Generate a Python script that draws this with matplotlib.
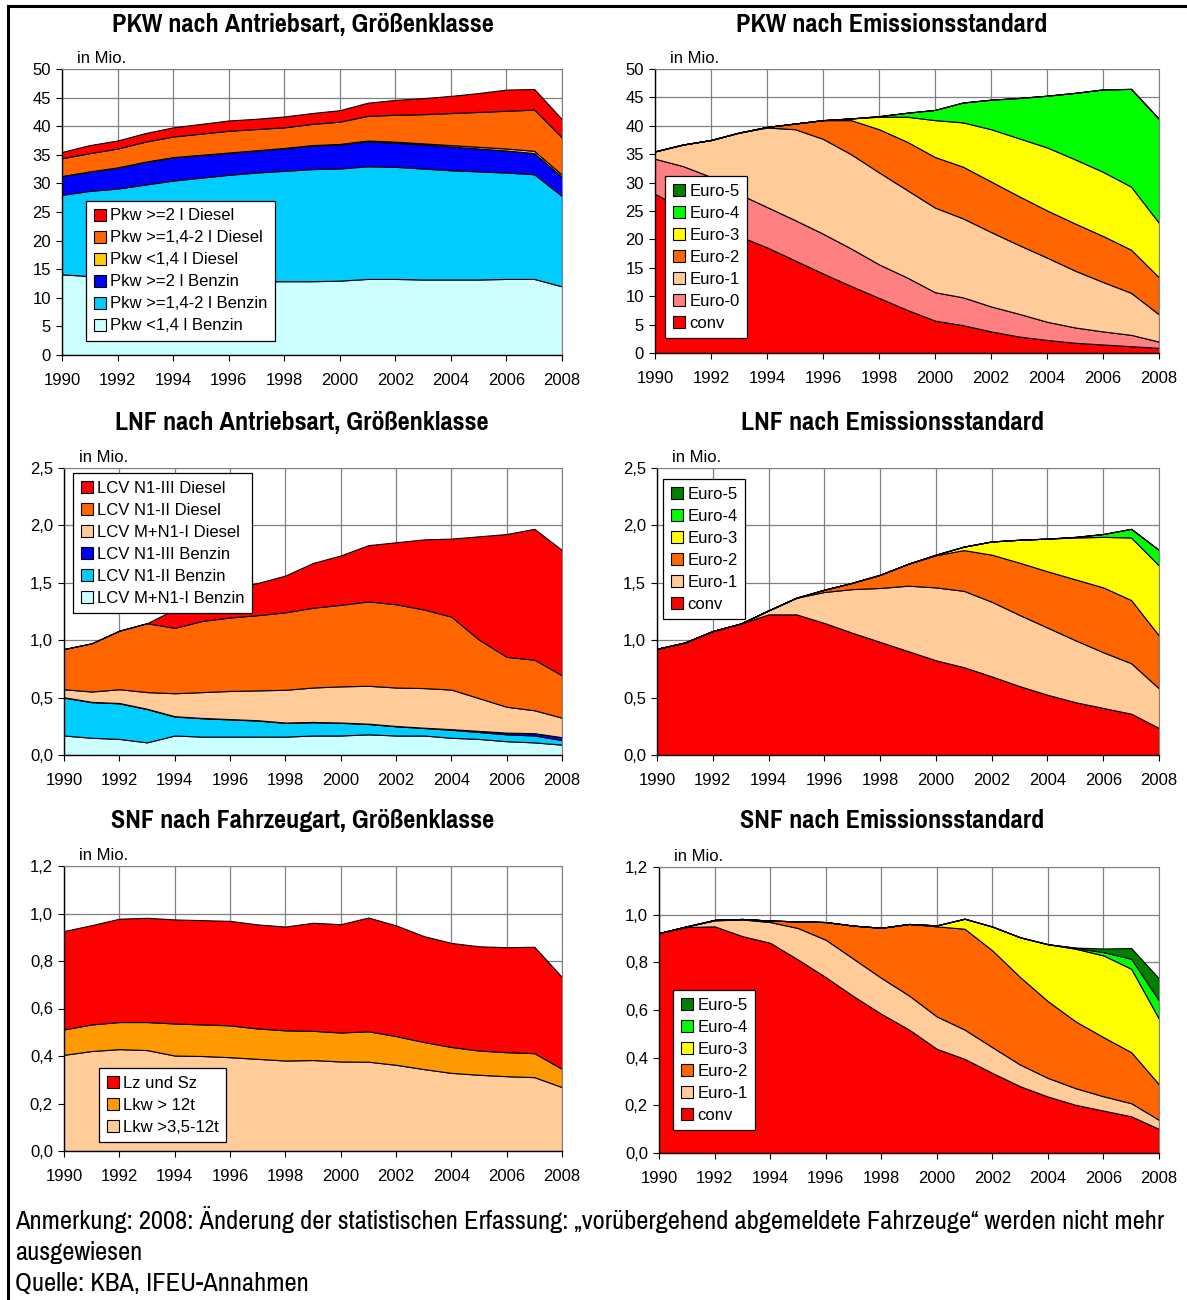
import matplotlib
matplotlib.use('Agg')
import matplotlib.pyplot as plt
from matplotlib.patches import Patch
from matplotlib.lines import Line2D
from matplotlib.ticker import FuncFormatter, MultipleLocator

W, H = 1187, 1300
years = list(range(1990, 2009))

# --- PKW nach Antriebsart (Mio.) ---
pkw_benz_klein = [14.1, 13.8, 13.6, 13.4, 13.2, 13.1, 13.0, 12.9, 12.9, 12.9, 13.0, 13.3, 13.3, 13.2, 13.2, 13.2, 13.3, 13.3, 12.0]
pkw_benz_mittel = [13.9, 14.9, 15.5, 16.4, 17.3, 17.9, 18.5, 19.0, 19.3, 19.6, 19.6, 19.7, 19.6, 19.4, 19.1, 18.9, 18.6, 18.3, 15.8]
pkw_benz_gross = [3.25, 3.35, 3.65, 3.95, 4.05, 3.95, 3.85, 3.85, 3.95, 4.1, 4.2, 4.35, 4.2, 4.2, 4.15, 4.0, 3.85, 3.7, 3.3]
pkw_dies_klein = [0.05, 0.05, 0.05, 0.05, 0.05, 0.05, 0.05, 0.05, 0.05, 0.1, 0.1, 0.15, 0.2, 0.2, 0.25, 0.3, 0.35, 0.4, 0.4]
pkw_dies_mittel = [3.1, 3.2, 3.3, 3.5, 3.6, 3.7, 3.8, 3.7, 3.6, 3.7, 3.9, 4.3, 4.7, 5.1, 5.6, 6.1, 6.6, 7.2, 6.5]
pkw_dies_gross = [1.1, 1.4, 1.4, 1.5, 1.6, 1.7, 1.8, 1.8, 1.9, 1.9, 2.0, 2.3, 2.6, 2.8, 3.0, 3.3, 3.7, 3.6, 3.2]

# --- PKW nach Emissionsstandard (Mio.) ---
pkw_conv = [28.0, 25.5, 23.0, 20.6, 18.6, 16.3, 14.0, 11.8, 9.7, 7.6, 5.7, 4.9, 3.8, 2.9, 2.3, 1.8, 1.5, 1.2, 0.9]
pkw_e0 = [6.2, 7.4, 8.0, 7.4, 7.1, 7.1, 7.0, 6.6, 5.9, 5.7, 5.0, 4.9, 4.4, 4.0, 3.2, 2.7, 2.3, 2.0, 1.1]
pkw_e1 = [1.3, 3.8, 6.5, 10.8, 14.0, 16.0, 16.7, 16.6, 16.2, 15.4, 14.9, 13.9, 13.1, 12.1, 11.3, 10.0, 8.7, 7.4, 4.8]
pkw_e2 = [0, 0, 0, 0, 0.1, 1.0, 3.3, 6.0, 7.6, 8.5, 8.9, 9.1, 8.9, 8.6, 8.3, 8.3, 8.1, 7.6, 6.5]
pkw_e3 = [0, 0, 0, 0, 0, 0, 0, 0.3, 2.2, 4.4, 6.5, 7.8, 9.2, 10.2, 11.1, 11.3, 11.3, 11.1, 9.6]
pkw_e4 = [0, 0, 0, 0, 0, 0, 0, 0, 0.1, 0.7, 1.8, 3.5, 5.2, 7.1, 9.1, 11.7, 14.5, 17.2, 18.3]
pkw_e5 = [0] * 19

# --- LNF nach Antriebsart (Mio.) ---
lnf_benz_1 = [0.17, 0.15, 0.14, 0.11, 0.17, 0.16, 0.16, 0.16, 0.16, 0.17, 0.17, 0.18, 0.17, 0.17, 0.15, 0.14, 0.12, 0.11, 0.09]
lnf_benz_2 = [0.33, 0.31, 0.31, 0.29, 0.165, 0.16, 0.15, 0.14, 0.12, 0.115, 0.11, 0.09, 0.08, 0.065, 0.07, 0.06, 0.06, 0.06, 0.04]
lnf_benz_3 = [0.003, 0.003, 0.003, 0.003, 0.003, 0.003, 0.003, 0.003, 0.003, 0.003, 0.003, 0.003, 0.003, 0.003, 0.005, 0.01, 0.015, 0.02, 0.025]
lnf_dies_1 = [0.07, 0.09, 0.12, 0.145, 0.2, 0.225, 0.245, 0.26, 0.285, 0.3, 0.315, 0.33, 0.335, 0.345, 0.345, 0.285, 0.225, 0.2, 0.17]
lnf_dies_2 = [0.35, 0.42, 0.51, 0.6, 0.57, 0.62, 0.64, 0.655, 0.675, 0.695, 0.71, 0.735, 0.725, 0.685, 0.635, 0.51, 0.435, 0.44, 0.37]
lnf_dies_3 = [0, 0, 0, 0, 0.16, 0.2, 0.25, 0.28, 0.32, 0.39, 0.43, 0.49, 0.54, 0.61, 0.68, 0.9, 1.07, 1.14, 1.09]

# --- LNF nach Emissionsstandard (Mio.) ---
lnf_conv = [0.925, 0.98, 1.08, 1.145, 1.225, 1.225, 1.15, 1.065, 0.985, 0.905, 0.825, 0.765, 0.685, 0.6, 0.525, 0.46, 0.41, 0.36, 0.235]
lnf_e1 = [0, 0, 0, 0, 0.035, 0.145, 0.27, 0.38, 0.47, 0.57, 0.635, 0.665, 0.65, 0.62, 0.585, 0.54, 0.485, 0.44, 0.345]
lnf_e2 = [0, 0, 0, 0, 0, 0, 0.02, 0.055, 0.115, 0.19, 0.28, 0.355, 0.41, 0.455, 0.49, 0.53, 0.565, 0.55, 0.46]
lnf_e3 = [0, 0, 0, 0, 0, 0, 0, 0, 0, 0, 0.005, 0.03, 0.115, 0.2, 0.285, 0.365, 0.44, 0.545, 0.61]
lnf_e4 = [0, 0, 0, 0, 0, 0, 0, 0, 0, 0, 0, 0, 0, 0, 0, 0.005, 0.025, 0.075, 0.135]
lnf_e5 = [0] * 19

# --- SNF nach Fahrzeugart (Mio.) ---
snf_lkw_klein = [0.405, 0.421, 0.429, 0.425, 0.402, 0.4, 0.395, 0.388, 0.381, 0.383, 0.377, 0.376, 0.363, 0.345, 0.329, 0.321, 0.315, 0.311, 0.269]
snf_lkw_gross = [0.107, 0.112, 0.114, 0.118, 0.135, 0.133, 0.134, 0.128, 0.127, 0.123, 0.122, 0.128, 0.121, 0.114, 0.109, 0.102, 0.101, 0.101, 0.077]
snf_lz_sz = [0.414, 0.418, 0.435, 0.439, 0.438, 0.439, 0.44, 0.438, 0.437, 0.455, 0.456, 0.479, 0.466, 0.446, 0.438, 0.439, 0.442, 0.448, 0.386]

# --- SNF nach Emissionsstandard (Mio.) ---
snf_conv = [0.923, 0.948, 0.951, 0.91, 0.882, 0.812, 0.738, 0.658, 0.584, 0.518, 0.437, 0.395, 0.336, 0.28, 0.237, 0.202, 0.178, 0.154, 0.101]
snf_e1 = [0, 0.003, 0.025, 0.07, 0.087, 0.132, 0.157, 0.157, 0.151, 0.143, 0.136, 0.123, 0.108, 0.091, 0.078, 0.07, 0.06, 0.055, 0.038]
snf_e2 = [0, 0, 0.002, 0.002, 0.006, 0.028, 0.074, 0.139, 0.21, 0.3, 0.378, 0.423, 0.406, 0.367, 0.322, 0.28, 0.248, 0.214, 0.149]
snf_e3 = [0, 0, 0, 0, 0, 0, 0, 0, 0, 0, 0.004, 0.042, 0.1, 0.167, 0.239, 0.305, 0.343, 0.35, 0.275]
snf_e4 = [0, 0, 0, 0, 0, 0, 0, 0, 0, 0, 0, 0, 0, 0, 0, 0.003, 0.014, 0.042, 0.077]
snf_e5 = [0, 0, 0, 0, 0, 0, 0, 0, 0, 0, 0, 0, 0, 0, 0, 0.002, 0.015, 0.045, 0.092]

# colours
RED, ORANGE, GOLD, BLUE, CYAN, LCYAN = '#FF0000', '#FF6600', '#FFCC00', '#0000FF', '#00CCFF', '#CCFFFF'
PEACH, PINK, YELLOW, GREEN, DGREEN, LORANGE = '#FFCC99', '#FF8080', '#FFFF00', '#00FF00', '#008000', '#FF9900'
euro_labels = ['conv', 'Euro-0', 'Euro-1', 'Euro-2', 'Euro-3', 'Euro-4', 'Euro-5']

NARROW = ['Liberation Sans Narrow', 'Arial Narrow', 'Pragati Narrow', 'Archivo Narrow', 'Liberation Sans', 'DejaVu Sans']
plt.rcParams['font.family'] = ['Liberation Sans', 'DejaVu Sans']

fig = plt.figure(figsize=(W / 100, H / 100), dpi=100)


def panel(box, layers, colors, labels, ymax, ystep, dec, leg_xy):
    l, t, r, b = box
    ax = fig.add_axes([l / W, 1 - b / H, (r - l) / W, (b - t) / H])
    ax.stackplot(years, *layers, colors=colors, edgecolor='black', linewidth=0.8)
    ax.set_xlim(1990, 2008)
    ax.set_ylim(0, ymax)
    ax.set_xticks(range(1990, 2009, 2))
    ax.yaxis.set_major_locator(MultipleLocator(ystep))
    fmt = '{:.%df}' % dec
    ax.yaxis.set_major_formatter(FuncFormatter(lambda v, p: fmt.format(v).replace('.', ',')))
    ax.set_axisbelow(True)
    ax.grid(True, color='#808080', linewidth=0.9)
    for s in ('top', 'right'):
        ax.spines[s].set_color('#808080')
    for s in ('left', 'bottom'):
        ax.spines[s].set_color('black')
        ax.spines[s].set_linewidth(1.0)
    ax.tick_params(labelsize=12, length=4, direction='out', colors='black')
    ax.tick_params(axis='x', pad=9)
    ax.tick_params(axis='y', pad=4)
    ax.text(0.03, 1.012, 'in Mio.', transform=ax.transAxes, fontsize=12, va='bottom')
    handles = [Patch(facecolor=c, edgecolor='black', linewidth=0.8) for c in colors]
    lx, ly = leg_xy
    leg = ax.legend(handles[::-1], labels[::-1], loc='upper left',
                    bbox_to_anchor=((lx - l) / (r - l), (b - ly) / (b - t)),
                    borderaxespad=0, fontsize=12, handlelength=0.75, handleheight=0.75,
                    handletextpad=0.25, labelspacing=0.42, borderpad=0.45,
                    fancybox=False, framealpha=1, edgecolor='black')
    leg.get_frame().set_linewidth(0.9)
    return ax


panel((62, 69, 562, 355),
      [pkw_benz_klein, pkw_benz_mittel, pkw_benz_gross, pkw_dies_klein, pkw_dies_mittel, pkw_dies_gross],
      [LCYAN, CYAN, BLUE, GOLD, ORANGE, RED],
      ['Pkw <1,4 l Benzin', 'Pkw >=1,4-2 l Benzin', 'Pkw >=2 l Benzin',
       'Pkw <1,4 l Diesel', 'Pkw >=1,4-2 l Diesel', 'Pkw >=2 l Diesel'],
      50, 5, 0, (86, 201))

panel((655, 69, 1159, 353),
      [pkw_conv, pkw_e0, pkw_e1, pkw_e2, pkw_e3, pkw_e4, pkw_e5],
      [RED, PINK, PEACH, ORANGE, YELLOW, GREEN, DGREEN],
      euro_labels, 50, 5, 0, (665, 176))

panel((64, 468, 562, 755),
      [lnf_benz_1, lnf_benz_2, lnf_benz_3, lnf_dies_1, lnf_dies_2, lnf_dies_3],
      [LCYAN, CYAN, BLUE, PEACH, ORANGE, RED],
      ['LCV M+N1-I Benzin', 'LCV N1-II Benzin', 'LCV N1-III Benzin',
       'LCV M+N1-I Diesel', 'LCV N1-II Diesel', 'LCV N1-III Diesel'],
      2.5, 0.5, 1, (73, 473))

panel((657, 468, 1159, 755),
      [lnf_conv, lnf_e1, lnf_e2, lnf_e3, lnf_e4, lnf_e5],
      [RED, PEACH, ORANGE, YELLOW, GREEN, DGREEN],
      [euro_labels[0]] + euro_labels[2:], 2.5, 0.5, 1, (663, 479))

panel((64, 866, 562, 1151),
      [snf_lkw_klein, snf_lkw_gross, snf_lz_sz],
      [PEACH, LORANGE, RED],
      ['Lkw >3,5-12t', 'Lkw > 12t', 'Lz und Sz'],
      1.2, 0.2, 1, (99, 1068))

panel((659, 867, 1159, 1153),
      [snf_conv, snf_e1, snf_e2, snf_e3, snf_e4, snf_e5],
      [RED, PEACH, ORANGE, YELLOW, GREEN, DGREEN],
      [euro_labels[0]] + euro_labels[2:], 1.2, 0.2, 1, (673, 990))

# titles
titles = [('PKW nach Antriebsart, Größenklasse', 303, 24),
          ('PKW nach Emissionsstandard', 892, 24),
          ('LNF nach Antriebsart, Größenklasse', 302, 423),
          ('LNF nach Emissionsstandard', 893, 423),
          ('SNF nach Fahrzeugart, Größenklasse', 303, 821),
          ('SNF nach Emissionsstandard', 892, 821)]
for txt, x, y in titles:
    fig.text(x / W, 1 - y / H, txt, ha='center', va='center', fontsize=20.5,
             fontweight='bold', family=NARROW)

# footnote
notes = [('Anmerkung: 2008: Änderung der statistischen Erfassung: \u201evorübergehend abgemeldete Fahrzeuge\u201c werden nicht mehr', 1220),
         ('ausgewiesen', 1252),
         ('Quelle: KBA, IFEU-Annahmen', 1284)]
for txt, y in notes:
    fig.text(15 / W, 1 - y / H, txt, ha='left', va='center', fontsize=20.8, family=NARROW)

# outer frame (top and left edge)
fig.add_artist(Line2D([8 / W, 1], [1 - 6 / H, 1 - 6 / H], color='black', linewidth=2.2))
fig.add_artist(Line2D([8 / W, 8 / W], [0, 1 - 6 / H], color='black', linewidth=2.2))

fig.savefig('out.png', dpi=100)
